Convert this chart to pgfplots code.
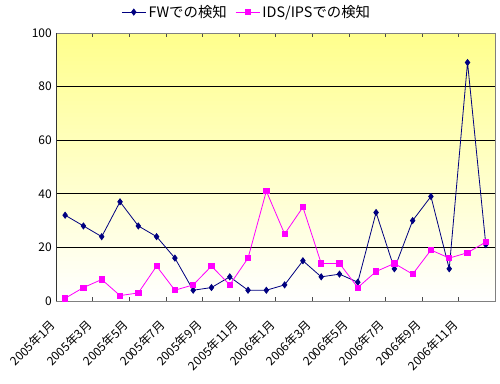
\documentclass[border=0pt]{standalone}
\usepackage{pgfplots}
\pgfplotsset{compat=1.18}
\usepackage{fontspec}
\newfontfamily\cjk{Noto Sans CJK JP}
\definecolor{fwc}{HTML}{000080}
\definecolor{idsc}{HTML}{FF00FF}
\definecolor{topy}{HTML}{FFFF8C}
\begin{document}
\begin{tikzpicture}
\path (-46.67pt,-69.17pt) rectangle (370pt,250.8pt);
\foreach \k/\lab in {0/2005年1月,1/2005年3月,2/2005年5月,3/2005年7月,4/2005年9月,5/2005年11月,6/2006年1月,7/2006年3月,8/2006年5月,9/2006年7月,10/2006年9月,11/2006年11月} {
  \node[rotate=45, anchor=east, inner sep=0pt, font=\cjk] at ({(2*\k+0.5)*15.2417pt-10pt},-18pt) {\lab};
}
\foreach \i in {0,...,66} {
  \pgfmathsetmacro\p{100*(\i+0.5)/67}
  \fill[topy!\p!white] (0pt,{\i*3.333pt}) rectangle (365.8pt,{\i*3.333pt+3.6pt});
}
\begin{axis}[
  at={(0pt,0pt)}, anchor=south west,
  scale only axis, width=365.8pt, height=223.3pt,
  xmin=0, xmax=24, ymin=0, ymax=100,
  axis line style={draw=gray},
  xtick={0,2,...,24}, xticklabels={},
  tick align=inside, major tick length=3.3pt,
  x tick style={draw=black!70},
  ytick={0,20,...,100},
  yticklabels={0,20,40,60,80,100},
  ymajorgrids, y grid style={black, line width=0.5pt},
  y tick style={draw=none},
  yticklabel style={font=\cjk},
  legend style={at={(0.435,1.078)}, anchor=center, draw=none, fill=none, font=\cjk\large, legend columns=2, /tikz/every even column/.append style={column sep=5pt}},
  legend image code/.code={\draw[#1] (0pt,0pt) -- (20pt,0pt); \draw[#1, only marks] plot coordinates {(10pt,0pt)};},
]
\addplot[color=fwc, line width=0.67pt, mark=diamond*, mark size=2.5pt, mark options={fill=fwc, draw=fwc, solid}] coordinates {
(0.5,32)(1.5,28)(2.5,24)(3.5,37)(4.5,28)(5.5,24)(6.5,16)(7.5,4)(8.5,5)(9.5,9)(10.5,4)(11.5,4)
(12.5,6)(13.5,15)(14.5,9)(15.5,10)(16.5,7)(17.5,33)(18.5,12)(19.5,30)(20.5,39)(21.5,12)(22.5,89)(23.5,21)};
\addlegendentry{FWでの検知}
\addplot[color=idsc, line width=0.67pt, mark=square*, mark size=2.2pt, mark options={fill=idsc, draw=idsc, solid}] coordinates {
(0.5,1)(1.5,5)(2.5,8)(3.5,2)(4.5,3)(5.5,13)(6.5,4)(7.5,6)(8.5,13)(9.5,6)(10.5,16)(11.5,41)
(12.5,25)(13.5,35)(14.5,14)(15.5,14)(16.5,5)(17.5,11)(18.5,14)(19.5,10)(20.5,19)(21.5,16)(22.5,18)(23.5,22)};
\addlegendentry{IDS/IPSでの検知}
\draw[black!80, line width=0.67pt] (axis cs:0,0) -- (axis cs:24,0);
\draw[black!80, line width=0.67pt] (axis cs:0,0) -- (axis cs:0,100);
\end{axis}
\end{tikzpicture}
\end{document}
